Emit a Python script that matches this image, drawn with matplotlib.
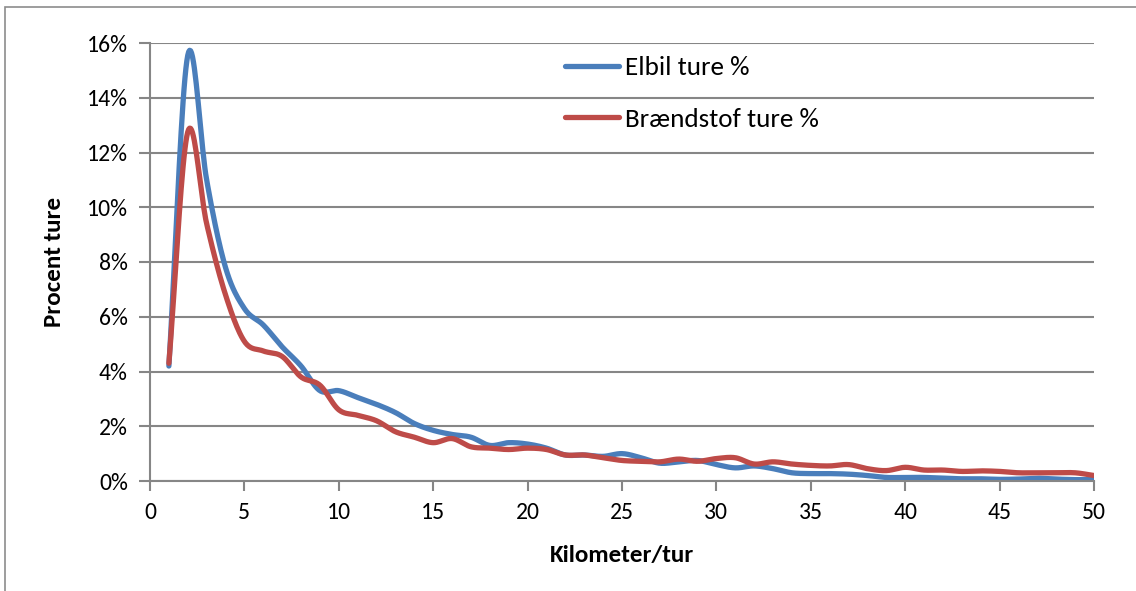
import matplotlib
matplotlib.use('Agg')
import matplotlib.pyplot as plt
import numpy as np
from matplotlib.ticker import FuncFormatter
from matplotlib.patches import Rectangle

plt.rcParams['font.family'] = ['Carlito', 'Liberation Sans', 'DejaVu Sans']

# data (percent of trips per km)
km = list(range(1, 51))
elbil = [4.2, 15.55, 11.0, 7.8, 6.3, 5.7, 4.9, 4.2, 3.3, 3.3,
         3.05, 2.8, 2.5, 2.1, 1.85, 1.7, 1.6, 1.3, 1.4, 1.35,
         1.2, 0.95, 0.95, 0.9, 1.0, 0.85, 0.65, 0.7, 0.75, 0.6,
         0.48, 0.55, 0.45, 0.3, 0.27, 0.27, 0.25, 0.2, 0.13, 0.13,
         0.13, 0.1, 0.08, 0.08, 0.06, 0.07, 0.1, 0.07, 0.05, 0.05]
braendstof = [4.3, 12.75, 9.4, 6.8, 5.1, 4.75, 4.55, 3.8, 3.5, 2.6,
              2.4, 2.2, 1.8, 1.6, 1.4, 1.55, 1.25, 1.2, 1.15, 1.2,
              1.15, 0.95, 0.95, 0.85, 0.75, 0.72, 0.7, 0.8, 0.72, 0.82,
              0.85, 0.62, 0.7, 0.62, 0.57, 0.55, 0.6, 0.45, 0.38, 0.5,
              0.4, 0.4, 0.35, 0.37, 0.35, 0.3, 0.3, 0.3, 0.3, 0.2]
labels = ['Elbil ture %', 'Brændstof ture %']
colors = ['#4a7ebb', '#be4b48']


def smooth(x, y, n=20):
    # catmull-rom like Excel smoothed lines
    x = np.asarray(x, float)
    y = np.asarray(y, float)
    px = np.concatenate([[2*x[0]-x[1]], x, [2*x[-1]-x[-2]]])
    py = np.concatenate([[2*y[0]-y[1]], y, [2*y[-1]-y[-2]]])
    t = np.linspace(0, 1, n, endpoint=False)
    xs, ys = [], []
    for i in range(1, len(px)-2):
        for arr, out in ((px, xs), (py, ys)):
            p0, p1, p2, p3 = arr[i-1], arr[i], arr[i+1], arr[i+2]
            out.extend(0.5*((2*p1) + (-p0+p2)*t + (2*p0-5*p1+4*p2-p3)*t**2
                            + (-p0+3*p1-3*p2+p3)*t**3))
    xs.append(x[-1])
    ys.append(y[-1])
    return np.array(xs), np.array(ys)


fig = plt.figure(figsize=(11.36, 5.91), dpi=100)
fig.patches.append(Rectangle((5/1136, -0.1), 1.2, 1 - 7/591 + 0.1, transform=fig.transFigure,
                             fill=False, edgecolor='#8c8c8c', linewidth=1.2))
ax = fig.add_axes([150/1136, 1-481/591, 944/1136, 438/591])

for ser, lab, c in zip([elbil, braendstof], labels, colors):
    sx, sy = smooth(km, ser)
    ax.plot(sx, sy, color=c, linewidth=3.8, label=lab, solid_capstyle='round')

ax.set_xlim(0, 50)
ax.set_ylim(0, 16)
ax.set_xticks(range(0, 51, 5))
ax.set_yticks(range(0, 17, 2))
ax.yaxis.set_major_formatter(FuncFormatter(lambda v, p: '%d%%' % v))
ax.grid(axis='y', color='#868686', linewidth=1.5)
ax.set_axisbelow(True)
for s in ['top', 'right']:
    ax.spines[s].set_visible(False)
for s in ['left', 'bottom']:
    ax.spines[s].set_color('#868686')
    ax.spines[s].set_linewidth(1.5)
ax.tick_params(axis='x', length=7, width=1.5, color='#868686', labelsize=17, pad=8)
ax.tick_params(axis='y', length=8, width=1.5, color='#868686', labelsize=17, pad=8)
ax.set_xlabel('Kilometer/tur', fontsize=18, fontweight='bold', labelpad=16)
ax.set_ylabel('Procent ture', fontsize=18, fontweight='bold', labelpad=16)

ax.legend(loc='upper left', bbox_to_anchor=(0.4396, 0.97), frameon=False, fontsize=19.5,
          handlelength=2.0, handletextpad=0.2, labelspacing=1.05,
          borderpad=0, borderaxespad=0)

fig.savefig('out.png', dpi=100)
